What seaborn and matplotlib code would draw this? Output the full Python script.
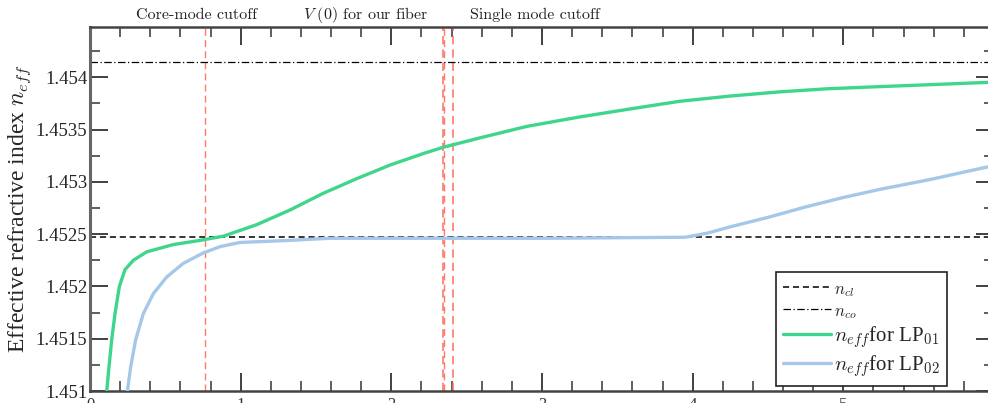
import matplotlib
matplotlib.use("Agg")
import matplotlib.pyplot as plt
from matplotlib.ticker import MultipleLocator
import seaborn as sns
import numpy as np

# --- data ---
v_lp01 = [0.111, 0.126, 0.144, 0.166, 0.195, 0.232, 0.288, 0.376, 0.553, 0.73, 0.885,
          1.106, 1.327, 1.548, 1.77, 1.991, 2.212, 2.344, 2.588, 2.9, 3.25, 3.6, 3.915,
          4.25, 4.578, 4.9, 5.242, 5.6, 5.95, 6.0]
n_lp01 = [1.4510, 1.45123, 1.45149, 1.45174, 1.45200, 1.45216, 1.45225, 1.45233,
          1.45240, 1.45244, 1.45248, 1.45259, 1.45273, 1.45289, 1.45303, 1.45316,
          1.45327, 1.45333, 1.45342, 1.45353, 1.45362, 1.45370, 1.45377, 1.45382,
          1.45386, 1.45389, 1.45391, 1.45393, 1.45395, 1.45395]

v_lp02 = [0.248, 0.27, 0.303, 0.354, 0.42, 0.509, 0.619, 0.752, 0.863, 0.995, 1.327,
          1.59, 2.0, 3.0, 3.95, 4.1, 4.25, 4.5, 4.75, 5.0, 5.25, 5.57, 5.95, 6.0]
n_lp02 = [1.4510, 1.45123, 1.45149, 1.45174, 1.45193, 1.45209, 1.45222, 1.45232,
          1.45238, 1.45242, 1.45244, 1.45246, 1.45246, 1.45246, 1.45247, 1.45251,
          1.45257, 1.45266, 1.45276, 1.45285, 1.45293, 1.45302, 1.45314, 1.45315]

n_cl = 1.452469
n_co = 1.454145

cutoff_lines = [0.764, 2.341, 2.41]
top_labels = ["Core-mode cutoff", r"$V\ (0)$ for our fiber", "Single mode cutoff"]
top_label_x = [0.71, 1.83, 2.95]

x_ticks = [0, 1, 2, 3, 4, 5, 6]
y_ticks = [1.451, 1.4515, 1.452, 1.4525, 1.453, 1.4535, 1.454]
y_ticklabels = ["1.451", "1.4515", "1.452", "1.4525", "1.453", "1.4535", "1.454"]

sns.set_style("ticks")
plt.rcParams["font.family"] = ["Liberation Serif", "DejaVu Serif"]
plt.rcParams["mathtext.fontset"] = "cm"

fig = plt.figure(figsize=(9.88, 4.03), dpi=100)
ax = fig.add_axes([90 / 988, 12 / 403, 904 / 988, 364 / 403])

green = "#3fd68c"
blue = "#a6c8e8"
red = "#ff6a5c"

ax.axhline(n_cl, color="black", ls=(0, (4, 2.5)), lw=1.1, label=r"$n_{cl}$", zorder=2)
ax.axhline(n_co, color="black", ls=(0, (6, 2, 1, 2)), lw=0.9, label=r"$n_{co}$", zorder=2)
for i, xv in enumerate(cutoff_lines):
    ax.axvline(xv, color=red, ls=(0, (5, 3)), lw=1.2 if i else 1.0, alpha=0.9, zorder=1)
ax.axvline(cutoff_lines[1] + 0.006, color=red, ls=(0, (5, 3)), lw=1.0, alpha=0.9, zorder=1)

sns.lineplot(x=v_lp01, y=n_lp01, ax=ax, color=green, lw=2.4, zorder=3,
             label=r"$n_{eff}$for LP$_{01}$")
sns.lineplot(x=v_lp02, y=n_lp02, ax=ax, color=blue, lw=2.4, zorder=3,
             label=r"$n_{eff}$for LP$_{02}$")

ax.set_xlim(0, 6)
ax.set_ylim(1.451, 1.45448)
ax.set_xticks(x_ticks)
ax.xaxis.set_minor_locator(MultipleLocator(0.2))
ax.set_yticks(y_ticks)
ax.set_yticklabels(y_ticklabels)
ax.yaxis.set_minor_locator(MultipleLocator(0.00025))
ax.tick_params(which="both", direction="in", top=True, right=True, color="#333333",
               labelsize=13.5, pad=2)
ax.tick_params(which="major", length=13, width=1.3)
ax.tick_params(which="minor", length=7, width=1.1)
ax.tick_params(axis="x", labelsize=12, pad=4, colors="#333333")
for sp in ax.spines.values():
    sp.set_color("#444444")
    sp.set_linewidth(1.8)
ax.spines["left"].set_color("#666666")
ax.spines["left"].set_linewidth(2.2)

ax.set_ylabel(r"Effective refractive index $n_{eff}$", fontsize=17, labelpad=2)

for lab, xv in zip(top_labels, top_label_x):
    ax.text(xv, 1.022, lab, transform=ax.get_xaxis_transform(), ha="center",
            va="baseline", fontsize=11.5, family="cmr10", color="#222222")

leg = ax.legend(loc="upper left", bbox_to_anchor=(776 / 988, 1 - 272 / 403),
                bbox_transform=fig.transFigure, frameon=True, fancybox=False,
                edgecolor="#222222", framealpha=1, fontsize=15, handlelength=2.3,
                handletextpad=0.15, borderpad=0.35, labelspacing=0.15,
                borderaxespad=0)
leg.get_frame().set_linewidth(1.2)
for t in leg.get_texts()[:2]:
    t.set_fontsize(12)

fig.savefig("out.png", dpi=100)
